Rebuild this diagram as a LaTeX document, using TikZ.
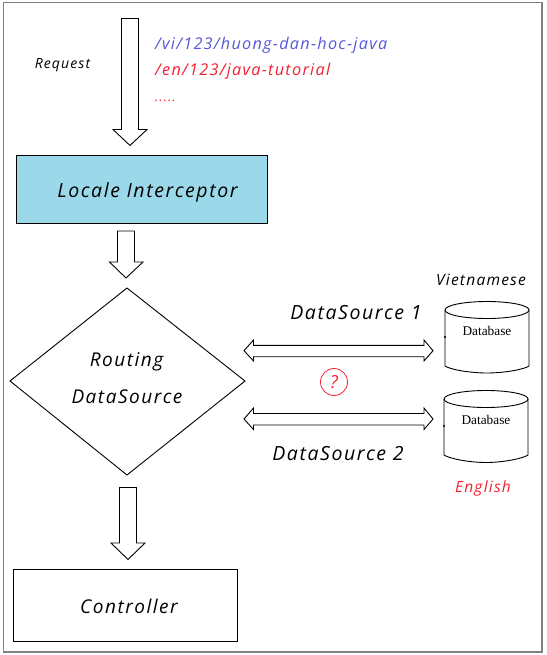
\documentclass[tikz,border=0pt]{standalone}
\usepackage{fontspec}
\setmainfont{Open Sans}[LetterSpace=8]
\newfontfamily\dbfont{Liberation Serif}
\definecolor{lociblue}{HTML}{9BD9EA}
\definecolor{urlblue}{HTML}{5555DD}
\definecolor{urlred}{HTML}{F5202F}
\begin{document}
\begin{tikzpicture}[x=1pt,y=-1pt,
  shape line/.style={draw=black,line width=.9pt,line join=miter},
  block arrow/.style={shape line,fill=white},
  hand/.style={inner sep=0pt,anchor=base,font=\itshape\fontsize{#1}{#1}\selectfont,text=black},
  blueish/.style={text=urlblue},
  reddish/.style={text=urlred},
  dbtext/.style={inner sep=0pt,anchor=base,font=\dbfont\fontsize{13.3}{13.3}\selectfont},
  cyl/.style={draw=black,line width=.9pt,fill=white}]
\useasboundingbox (0,0) rectangle (546,655);
\draw[draw=gray,line width=1.3pt] (3.5,2.5) rectangle (542,652);
% block arrows
\draw[block arrow] (121.5,18.5) -- (138.5,18.5) -- (138.5,129.5) -- (147,129.5) -- (130,145.5) -- (113,129.5) -- (121.5,129.5) -- cycle;
\draw[block arrow] (117.5,231) -- (134.5,231) -- (134.5,262) -- (143,262) -- (126,278) -- (109.5,262) -- (117.5,262) -- cycle;
\draw[block arrow] (119.5,487.5) -- (136.5,487.5) -- (136.5,543) -- (145,543) -- (128,559.5) -- (111,543) -- (119.5,543) -- cycle;
% boxes
\filldraw[shape line,fill=lociblue] (16.5,155.5) rectangle (267.5,223);
\node[hand=19.5] (loc) at (147.5,197) {Locale Interceptor};
\draw[shape line] (13.5,569.5) rectangle (237.5,641.5);
\node[hand=19] (ctl) at (129,613) {Controller};
% diamond
\draw[shape line] (10,381) -- (127,288) -- (245,381) -- (127,475) -- cycle;
\node[hand=19] (rt1) at (126.5,366) {Routing};
\node[hand=19] (rt2) at (127,403) {DataSource};
% double arrows
\draw[block arrow] (244,350.7) -- (253.5,340) -- (253.5,345.3) -- (424,345.3) -- (424,340) -- (433,350.7) -- (424,361) -- (424,356.7) -- (253.5,356.7) -- (253.5,361) -- cycle;
\draw[block arrow] (244,419) -- (253.5,408) -- (253.5,413.5) -- (424,413.5) -- (424,408) -- (433,419) -- (424,429.5) -- (424,425) -- (253.5,425) -- (253.5,429.5) -- cycle;
\node[hand=19.5] (ds1) at (356,319) {DataSource 1};
\node[hand=19.5] (ds2) at (338,460) {DataSource 2};
\node[draw=urlred,circle,line width=.8pt,minimum size=27pt,inner sep=0pt,text=urlred,font=\itshape\fontsize{18}{18}\selectfont] (q) at (334,382) {?};
% databases
\draw[cyl] (445,310) -- (445,366) .. controls (450,369.5) and (470,373) .. (487,373) .. controls (504,373) and (524,369.5) .. (529,366) -- (529,310);
\draw[cyl] (487,310) ellipse[x radius=42,y radius=8.5];
\draw[cyl,fill=black] (445,337) circle[radius=.4];
\node[dbtext] (db1) at (487,335) {Database};
\draw[cyl] (444,399) -- (444,455) .. controls (449,458.5) and (469,462.5) .. (486,462.5) .. controls (503,462.5) and (523,458.5) .. (528,455) -- (528,399);
\draw[cyl] (486,399) ellipse[x radius=42,y radius=8.5];
\draw[cyl,fill=black] (444,426) circle[radius=.4];
\node[dbtext] (db2) at (486,424) {Database};
% labels
\node[hand=14] (req) at (62.5,69) {Request};
\node[hand=16.2,blueish,anchor=base west] (u1) at (155,50) {/vi/123/huong-dan-hoc-java};
\node[hand=16.2,reddish,anchor=base west] (u2) at (155,76) {/en/123/java-tutorial};
\node[hand=13,reddish,anchor=base west] (u3) at (155,102) {.....};
\node[hand=15.5] (vn) at (481,285) {Vietnamese};
\node[hand=15.5,reddish] (en) at (483,492) {English};
\end{tikzpicture}
\end{document}
